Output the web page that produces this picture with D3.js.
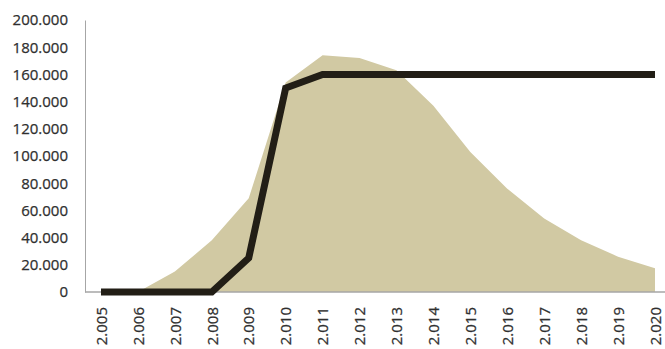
<!DOCTYPE html>
<html>
<head>
<meta charset="utf-8">
<script src="https://cdn.jsdelivr.net/npm/d3@7"></script>
<style>
  html, body { margin: 0; padding: 0; background: #fff; }
  svg { display: block; }
  text { font-family: "Open Sans", "Liberation Sans", sans-serif; }
</style>
</head>
<body>
<script>
// Years on the category axis
const years = ["2.005","2.006","2.007","2.008","2.009","2.010","2.011","2.012",
               "2.013","2.014","2.015","2.016","2.017","2.018","2.019","2.020"];
// Shaded area series
const areaValues = [0, 0, 15000, 38000, 69000, 154000, 174000, 172000,
                    163000, 137000, 103000, 76000, 54000, 38000, 26000, 17500];
// Thick line series
const lineValues = [0, 0, 0, 0, 25000, 150000, 160000, 160000,
                    160000, 160000, 160000, 160000, 160000, 160000, 160000, 160000];
// Value axis ticks
const yTicks = [0, 20000, 40000, 60000, 80000, 100000, 120000, 140000, 160000, 180000, 200000];

const W = 665, H = 349;
const locale = d3.formatLocale({ decimal: ",", thousands: ".", grouping: [3], currency: ["", ""] });
const fmt = locale.format(",");

const svg = d3.select("body").append("svg").attr("width", W).attr("height", H);

const x = d3.scalePoint().domain(years).range([101, 655]);
const y = d3.scaleLinear().domain([0, 200000]).range([292, 20]);

const data = years.map((yr, i) => ({ yr, a: areaValues[i], l: lineValues[i] }));

// Area
svg.append("path")
  .datum(data)
  .attr("fill", "#d1c9a3")
  .attr("d", d3.area().x(d => x(d.yr)).y0(y(0)).y1(d => y(d.a)));

// Value axis
const yAxis = svg.append("g")
  .attr("transform", "translate(85,0)")
  .call(d3.axisLeft(y).tickValues(yTicks).tickFormat(fmt).tickSize(0).tickPadding(17));
yAxis.select(".domain").attr("stroke", "#a6a6a6").attr("stroke-width", 1);
yAxis.selectAll("text").attr("font-size", 15).attr("fill", "#2f2f2f")
  .attr("stroke", "#2f2f2f").attr("stroke-width", 0.25);

// Category axis
const xAxis = svg.append("g")
  .attr("transform", `translate(0,${y(0)})`)
  .call(d3.axisBottom(x).tickSize(0));
xAxis.select(".domain").attr("d", "M85,0H665").attr("stroke", "#a6a6a6").attr("stroke-width", 1.5);
xAxis.selectAll("text")
  .attr("font-size", 15)
  .attr("fill", "#2f2f2f")
  .attr("stroke", "#2f2f2f").attr("stroke-width", 0.25)
  .attr("text-anchor", "end")
  .attr("transform", "translate(0,15) rotate(-90)")
  .attr("x", 0)
  .attr("y", 0)
  .attr("dy", "0.35em");

// Line
svg.append("path")
  .datum(data)
  .attr("fill", "none")
  .attr("stroke", "#221e16")
  .attr("stroke-width", 7)
  .attr("stroke-linejoin", "miter")
  .attr("d", d3.line().x(d => x(d.yr)).y(d => y(d.l)));
</script>
</body>
</html>
